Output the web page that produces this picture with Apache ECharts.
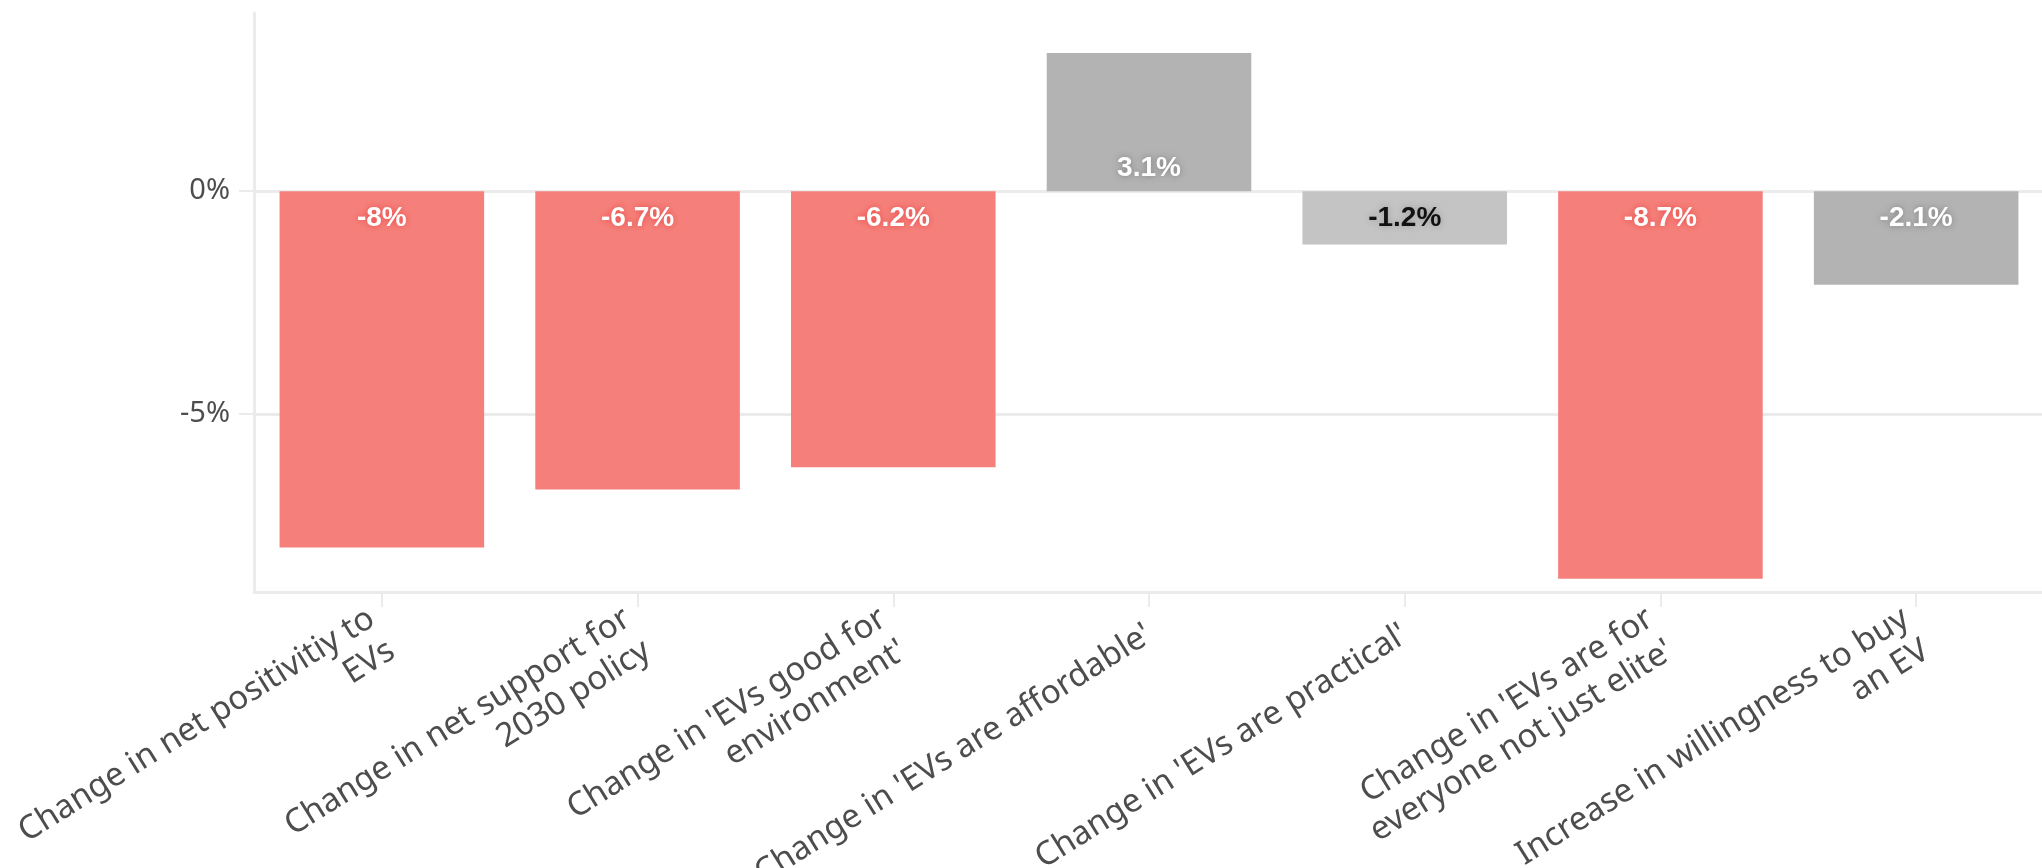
<!DOCTYPE html>
<html>
<head>
<meta charset="utf-8">
<title>Change in attitudes to EVs</title>
<script src="https://cdn.jsdelivr.net/npm/echarts@6/dist/echarts.min.js"></script>
<style>
  html, body { margin: 0; padding: 0; background: #ffffff; }
  #chart { width: 2042px; height: 868px; }
</style>
</head>
<body>
<div id="chart"></div>
<script>
// Survey measures (x axis)
const categories = [
  "Change in net positivitiy to\nEVs",
  "Change in net support for\n2030 policy",
  "Change in 'EVs good for\nenvironment'",
  "Change in 'EVs are affordable'",
  "Change in 'EVs are practical'",
  "Change in 'EVs are for\neveryone not just elite'",
  "Increase in willingness to buy\nan EV"
];

// Change in percentage points
const values = [-8, -6.7, -6.2, 3.1, -1.2, -8.7, -2.1];

// Group each measure belongs to
const groups = ["decline", "decline", "decline", "neutral", "muted", "decline", "neutral"];

// Labelled ticks on the value axis
const yTicks = [-5, 0];

// Look of each group
const groupStyle = {
  decline: { bar: "#f5807b", text: "#ffffff", glow: "rgba(232,70,66,0.95)" },
  neutral: { bar: "#b3b3b3", text: "#ffffff", glow: "rgba(120,120,120,0.9)" },
  muted:   { bar: "#c4c4c4", text: "#111111", glow: "rgba(150,150,150,0.9)" }
};

const gridColor = "#ebebeb";

const seriesData = values.map(function (v, i) {
  const s = groupStyle[groups[i]];
  return {
    value: v,
    itemStyle: { color: s.bar },
    label: {
      position: v < 0 ? "insideTop" : "insideBottom",
      distance: v < 0 ? 13 : 9,
      color: s.text,
      textShadowColor: s.glow,
      textShadowBlur: 6
    }
  };
});

const chart = echarts.init(document.getElementById("chart"), null, { renderer: "canvas" });

chart.setOption({
  animation: false,
  backgroundColor: "#ffffff",
  grid: {
    left: 254,
    top: 13,
    right: -2,
    bottom: 276,
    outerBoundsMode: "none",
    containLabel: false
  },
  xAxis: {
    type: "category",
    data: categories,
    axisLine: { onZero: false, lineStyle: { color: gridColor, width: 3 } },
    axisTick: { show: true, length: 15, alignWithLabel: true, lineStyle: { color: gridColor, width: 2 } },
    axisLabel: {
      interval: 0,
      rotate: 32,
      margin: 40,
      fontFamily: "Noto Sans",
      fontSize: 33,
      lineHeight: 38,
      color: "#4d4d4d",
      align: "right"
    }
  },
  yAxis: {
    type: "value",
    min: -9,
    max: 4,
    axisLine: { show: true, lineStyle: { color: gridColor, width: 3 } },
    axisTick: { show: true, length: 15, customValues: yTicks, lineStyle: { color: gridColor, width: 2 } },
    axisLabel: {
      customValues: yTicks,
      margin: 24,
      fontFamily: "Noto Sans",
      fontSize: 29,
      color: "#4d4d4d",
      formatter: function (v) { return v + "%"; }
    },
    splitLine: { show: true, lineStyle: { color: gridColor, width: 3 } }
  },
  series: [{
    type: "bar",
    data: seriesData,
    barCategoryGap: "20%",
    label: {
      show: true,
      fontFamily: "Liberation Sans Narrow, Liberation Sans, sans-serif",
      fontWeight: "bold",
      fontSize: 28,
      formatter: function (p) { return p.value + "%"; }
    }
  }]
});
</script>
</body>
</html>
